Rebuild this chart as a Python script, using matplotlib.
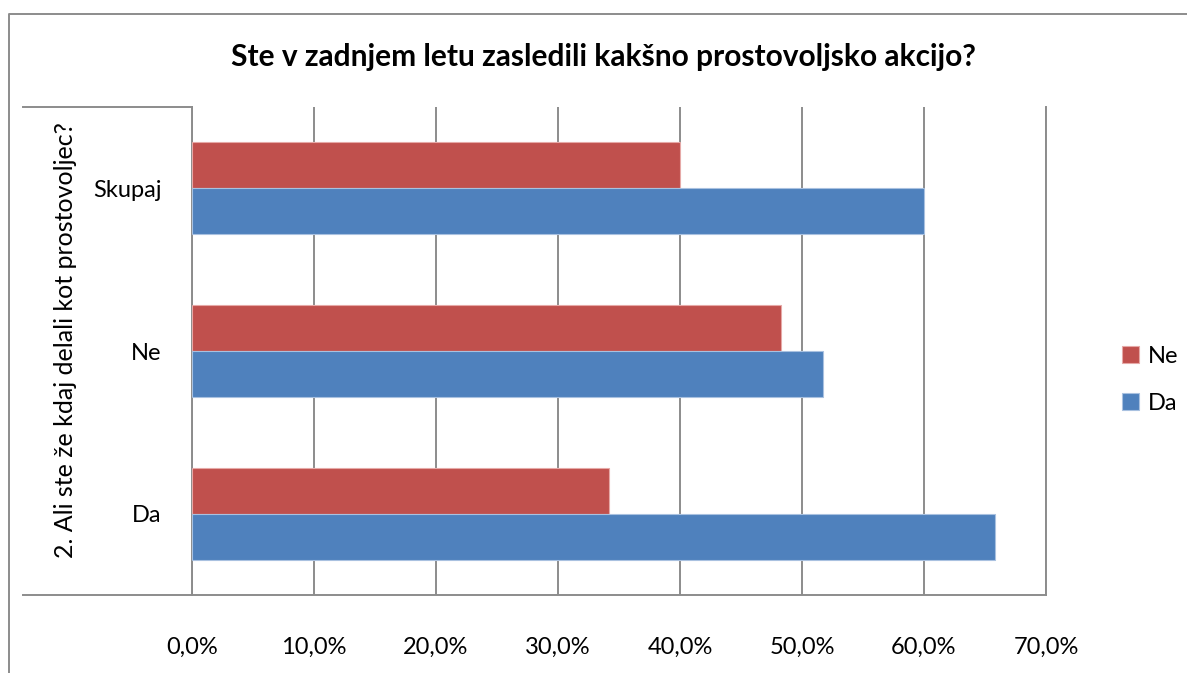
import matplotlib
matplotlib.use("Agg")
import matplotlib.pyplot as plt
from matplotlib.lines import Line2D
import numpy as np

categories = ["Da", "Ne", "Skupaj"]
series_names = ["Ne", "Da"]
ne_values = [34.2, 48.3, 40.0]
da_values = [65.8, 51.7, 60.0]
x_ticks = [0, 10, 20, 30, 40, 50, 60, 70]
x_tick_labels = ["0,0%", "10,0%", "20,0%", "30,0%", "40,0%", "50,0%", "60,0%", "70,0%"]
title = "Ste v zadnjem letu zasledili kakšno prostovoljsko akcijo?"
ylabel = "2. Ali ste že kdaj delali kot prostovoljec?"

RED = "#C0504D"
BLUE = "#4F81BD"
GRID = "#8C8C8C"

plt.rcParams['font.family'] = ['Lato', 'DejaVu Sans']

W, H = 1187, 673
fig = plt.figure(figsize=(W / 100, H / 100), dpi=100)

def fx(px):
    return px / W

def fy(py):
    return 1 - py / H

ax = fig.add_axes([fx(192), fy(595), fx(1046) - fx(192), fy(107) - fy(595)])

y = np.arange(len(categories))
h = 0.283
ax.barh(y + h / 2, ne_values, height=h, color=RED, edgecolor="#E6A9A7", linewidth=0.8, label=series_names[0], zorder=3)
ax.barh(y - h / 2, da_values, height=h, color=BLUE, edgecolor="#A9C1E0", linewidth=0.8, label=series_names[1], zorder=3)

ax.set_xlim(0, 70)
ax.set_ylim(-0.5, 2.5)
ax.set_xticks(x_ticks)
ax.set_xticklabels(x_tick_labels, fontsize=17)
ax.set_yticks(y)
ax.set_yticklabels(categories, fontsize=17)
ax.tick_params(axis='x', length=0, pad=30)
ax.tick_params(axis='y', length=0, pad=22)
ax.grid(axis='x', color=GRID, linewidth=1.4, zorder=0)
ax.spines["top"].set_visible(False)
for s in ["left", "right", "bottom"]:
    ax.spines[s].set_color(GRID)
    ax.spines[s].set_linewidth(1.4)

# multi-level category lines
fig.add_artist(Line2D([fx(23), fx(192)], [fy(107), fy(107)], color=GRID, linewidth=1.4))
fig.add_artist(Line2D([fx(23), fx(192)], [fy(595), fy(595)], color=GRID, linewidth=1.4))

# outer chart frame
fig.add_artist(Line2D([fx(9), fx(9), fx(1187)], [fy(673), fy(14), fy(14)], color="#8C8C8C", linewidth=1.4))

fig.text(fx(603), fy(57), title, ha="center", va="center", fontsize=21.5, fontweight="bold")
fig.text(fx(66), fy(340), ylabel, ha="center", va="center", rotation=90, fontsize=18)

handles, labels = ax.get_legend_handles_labels()
leg = fig.legend(handles, labels, loc="center left", bbox_to_anchor=(fx(1101), fy(380)),
                 frameon=False, fontsize=17, handlelength=0.7, handleheight=0.7,
                 handletextpad=0.4, labelspacing=1.1)

fig.savefig("out.png", dpi=100)
